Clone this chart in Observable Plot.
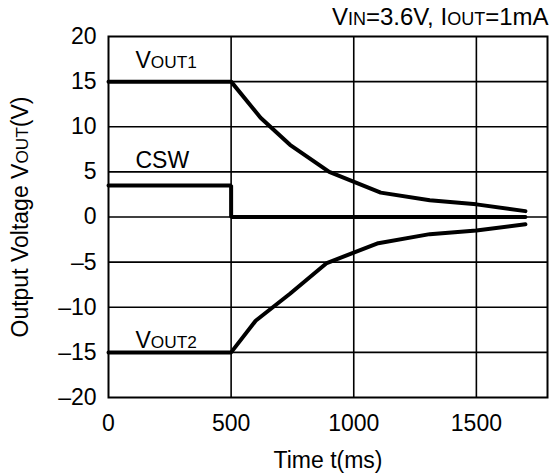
<!DOCTYPE html>
<html>
<head>
<meta charset="utf-8">
<script src="https://cdn.jsdelivr.net/npm/d3@7"></script>
<script src="https://cdn.jsdelivr.net/npm/@observablehq/plot@0.6"></script>
<style>
  html, body { margin: 0; padding: 0; background: #fff; }
  svg { display: block; font-family: "Liberation Sans", Arial, sans-serif; }
</style>
</head>
<body>
<div id="chart"></div>
<script>
// Time (ms) and voltages (V)
const vout1T = [0, 500, 620, 740, 900, 1110, 1310, 1500, 1700];
const vout1V = [15, 15, 11, 8, 5, 2.7, 1.85, 1.4, 0.65];
const vout2T = [0, 500, 600, 740, 890, 1100, 1310, 1500, 1700];
const vout2V = [-15, -15, -11.5, -8.5, -5.1, -2.9, -1.9, -1.5, -0.8];
const cswT = [0, 500, 500, 1700];
const cswV = [3.5, 3.5, 0, 0];

const xTicks = [0, 500, 1000, 1500];
const yTicks = [-20, -15, -10, -5, 0, 5, 10, 15, 20];
const xGrid = [500, 1000, 1500];
const yGrid = [-15, -10, -5, 0, 5, 10, 15];

const seriesNames = ["VOUT1", "CSW", "VOUT2"];
const labelT = [110, 110, 110];
const labelV = [17.3, 6.3, -13.7];

const titleText = "VIN=3.6V, IOUT=1mA";
const xLabel = "Time t(ms)";
const yLabel = "Output Voltage VOUT(V)";

const toRows = (ts, vs) => ts.map((t, i) => ({t, v: vs[i]}));
const vout1 = toRows(vout1T, vout1V);
const vout2 = toRows(vout2T, vout2V);
const csw = toRows(cswT, cswV);
const labels = seriesNames.map((name, i) => ({name, t: labelT[i], v: labelV[i]}));

const fs = 23;
const yFmt = d => d < 0 ? "\u2013" + Math.abs(d) : String(d);

const chart = Plot.plot({
  width: 554,
  height: 475,
  marginTop: 36,
  marginRight: 7,
  marginBottom: 78,
  marginLeft: 108,
  style: {fontFamily: '"Liberation Sans", Arial, sans-serif', fontSize: fs + "px", color: "#000", background: "#fff"},
  x: {domain: [0, 1790], ticks: xTicks, tickFormat: d => String(d), label: null},
  y: {domain: [-20, 20], ticks: yTicks, tickFormat: yFmt, label: null},
  marks: [
    Plot.ruleX(xGrid, {stroke: "#000", strokeWidth: 1.6}),
    Plot.ruleY(yGrid, {stroke: "#000", strokeWidth: 1.6}),
    Plot.frame({stroke: "#000", strokeWidth: 2}),
    Plot.axisX({ticks: xTicks, tickSize: 0, tickPadding: 17, fontSize: fs, tickFormat: d => String(d), label: null}),
    Plot.axisY({ticks: yTicks, tickSize: 0, tickPadding: 12, fontSize: fs, tickFormat: yFmt, label: null}),
    Plot.line(vout1, {x: "t", y: "v", stroke: "#000", strokeWidth: 4, strokeLinejoin: "round"}),
    Plot.line(vout2, {x: "t", y: "v", stroke: "#000", strokeWidth: 4, strokeLinejoin: "round"}),
    Plot.line(csw, {x: "t", y: "v", stroke: "#000", strokeWidth: 4, strokeLinejoin: "miter"}),
    Plot.text(labels, {x: "t", y: "v", text: "name", textAnchor: "start", lineAnchor: "middle", fontSize: fs, fill: "#000"}),
    Plot.text([titleText], {frameAnchor: "top-right", dy: -19, dx: 1, textAnchor: "end", lineAnchor: "middle", fontSize: 24, fill: "#000"}),
    Plot.text([xLabel], {frameAnchor: "bottom", dy: 63, textAnchor: "middle", lineAnchor: "middle", fontSize: fs, fill: "#000"}),
    Plot.text([yLabel], {frameAnchor: "left", dx: -88, rotate: -90, textAnchor: "middle", lineAnchor: "middle", fontSize: fs, fill: "#000"})
  ]
});

document.getElementById("chart").appendChild(chart);

// Render subscript-style small letters as tspans
const rich = {
  "VOUT1": [["V", false], ["OUT1", true]],
  "VOUT2": [["V", false], ["OUT2", true]],
  [titleText]: [["V", false], ["IN", true], ["=3.6V, I", false], ["OUT", true], ["=1mA", false]],
  [yLabel]: [["Output Voltage V", false], ["OUT", true], ["(V)", false]]
};
d3.select(chart).selectAll("text").each(function() {
  const parts = rich[this.textContent];
  if (!parts) return;
  const sel = d3.select(this);
  sel.text(null);
  for (const [s, small] of parts) {
    const ts = sel.append("tspan").text(s);
    if (small) ts.attr("font-size", "0.75em");
  }
});
</script>
</body>
</html>
